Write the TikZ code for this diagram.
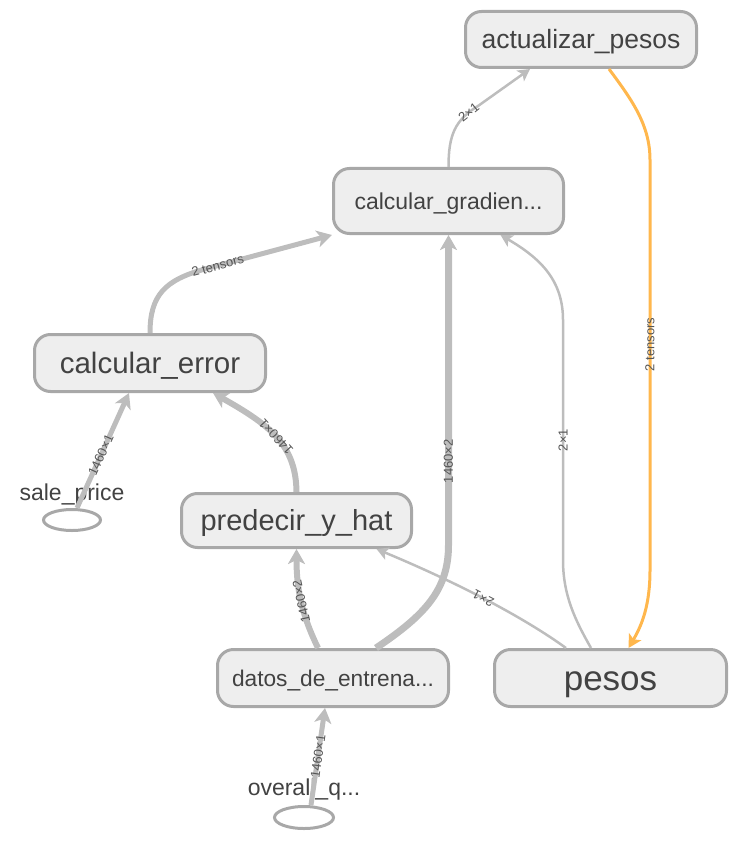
\documentclass[tikz,border=0pt]{standalone}
\usepackage{fontspec}
\setmainfont{Liberation Sans}
\usetikzlibrary{arrows.meta,shapes.geometric}
\definecolor{boxfill}{HTML}{EEEEEE}
\definecolor{boxline}{HTML}{A8A8A8}
\definecolor{flowgray}{HTML}{BDBDBD}
\definecolor{flowgold}{HTML}{FFB74D}
\definecolor{nodetext}{HTML}{424242}
\definecolor{tagtext}{HTML}{555555}

\begin{document}
\begin{tikzpicture}[x=1pt,y=-1pt,
	op/.style={rectangle,draw=boxline,fill=boxfill,line width=3pt,rounded corners=16pt,text=nodetext,minimum width=231pt,minimum height=57pt,inner sep=0pt,text depth=0pt},
	feed/.style={ellipse,draw=boxline,line width=3pt,inner sep=0pt},
	feedname/.style={text=nodetext,font=\fontsize{23}{26}\selectfont,anchor=base},
	fat/.style={draw=flowgray,line width=#1,-{Stealth[length=15pt,width=17pt,inset=4pt]}},
	slim/.style={draw=flowgray,line width=2.5pt,-{Stealth[length=12pt,width=13pt,inset=3pt]}},
	tag/.style={font=\fontsize{13}{14}\selectfont,text=tagtext,inner sep=0pt},
	along/.style={tag,sloped,allow upside down}]
	\useasboundingbox (0,0) rectangle (738,850);
	\begin{scope}[every node/.style={op}]
		\node[font=\fontsize{26.5}{30}\selectfont,text height=19pt,minimum height=56pt] (act) at (581,39.5) {actualizar\_pesos};
		\node[font=\fontsize{23}{27}\selectfont,text height=16.5pt,minimum width=230pt,minimum height=65pt] (grad) at (448.5,201) {calcular\_gradien...};
		\node[font=\fontsize{29.5}{33}\selectfont,text height=21.2pt] (err) at (150,363) {calcular\_error};
		\node[font=\fontsize{29}{33}\selectfont,text height=20.9pt,minimum width=230pt,minimum height=54pt] (pred) at (296.5,520.5) {predecir\_y\_hat};
		\node[font=\fontsize{22.7}{26}\selectfont,text height=16.3pt] (datos) at (333,678) {datos\_de\_entrena...};
		\node[font=\fontsize{35}{40}\selectfont,text height=25.2pt,minimum width=232pt] (pesos) at (610.5,678) {pesos};
	\end{scope}
	\node[feed,minimum width=57pt,minimum height=21pt] (sp) at (72,520) {};
	\node[feedname] (sptext) at (72,500) {sale\_price};
	\node[feed,minimum width=59pt,minimum height=22pt] (oq) at (304,817.5) {};
	\node[feedname] (oqtext) at (304,795) {overall\_q...};
	\begin{scope}[every node/.style={along}]
		\draw[fat=5pt] (err.north) .. controls (150,295) and (165,280) .. (205,269) -- node[pos=0.1] {2 tensors} (grad.south west);
		\draw[slim] (grad.north) .. controls (448.5,135) and (455,120) .. (478,106) node[pos=0.85] {2×1} -- ([xshift=-51pt]act.south);
		\draw[slim] ([xshift=-19.5pt]pesos.north) .. controls (575,620) and (563,595) .. (563,560) -- node {2×1} (563,320) .. controls (563,280) and (540,258) .. ([xshift=52pt]grad.south);
		\draw[slim] ([xshift=-44.5pt]pesos.north) .. controls (530,622) and (470,588) .. ([xshift=80pt]pred.south) node[pos=0.55] {2×1};
		\draw[fat=7pt] ([xshift=43pt]datos.north) .. controls (425,615) and (448.5,590) .. (448.5,545) -- node[pos=0.27] {1460×2} (grad.south);
		\draw[fat=6pt] ([xshift=-15pt]datos.north) .. controls (302,615) and (296.5,590) .. (pred.south) node[pos=0.5] {1460×2};
		\draw[fat=6pt] (pred.north) .. controls (296,445) and (270,425) .. ([xshift=63pt]err.south) node[pos=0.5] {1460×1};
		\draw[fat=5pt] ([xshift=5pt]sp.north) -- node[pos=0.46] {1460×1} ([xshift=-21pt]err.south);
		\draw[fat=5pt] ([xshift=7pt]oq.north) -- node {1460×1} ([xshift=-8pt]datos.south);
	\end{scope}
	\draw[draw=flowgold,line width=3pt,-{Stealth[length=13pt,width=14pt,inset=3pt]}] ([xshift=28pt]act.south) .. controls (632,100) and (650,125) .. (650,160) -- node[tag,pos=0.45,rotate=90] {2 tensors} (650,570) .. controls (650,605) and (642,625) .. ([xshift=18pt]pesos.north);
\end{tikzpicture}
\end{document}
